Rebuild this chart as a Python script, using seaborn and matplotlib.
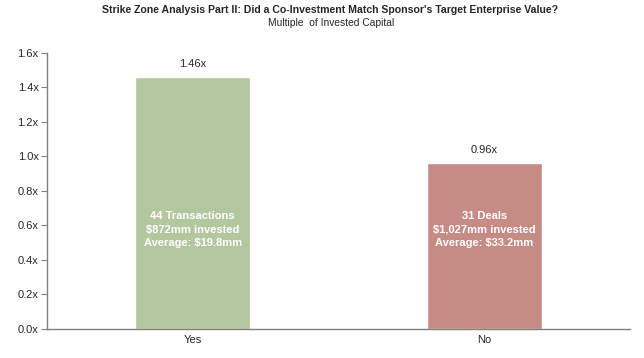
import matplotlib
matplotlib.use("Agg")
import matplotlib.pyplot as plt
import seaborn as sns
import pandas as pd

categories = ["Yes", "No"]
values = [1.46, 0.96]
value_labels = ["1.46x", "0.96x"]
inner_labels = ["44 Transactions\n$872mm invested\nAverage: $19.8mm",
                "31 Deals\n$1,027mm invested\nAverage: $33.2mm"]
colors = ["#B3C79E", "#C78B86"]
yticks = [0.0, 0.2, 0.4, 0.6, 0.8, 1.0, 1.2, 1.4, 1.6]

sns.set_style("white")
plt.rcParams['font.family'] = ['Liberation Sans', 'DejaVu Sans']

df = pd.DataFrame({"cat": categories, "val": values})
fig = plt.figure(figsize=(6.44, 3.58), dpi=100)
ax = fig.add_axes([0.073, 0.081, 0.905, 0.771])
sns.barplot(data=df, x="cat", y="val", hue="cat", palette=colors, width=0.395,
            legend=False, ax=ax, saturation=1)
ax.set_xlim(-0.5, 1.5)
ax.set_ylim(0, 1.6)
ax.set_yticks(yticks)
ax.set_yticklabels([f"{t:.1f}x" for t in yticks], fontsize=8)
ax.tick_params(axis='y', length=4, color='#808080', direction='out', left=True, pad=2)
ax.tick_params(axis='x', length=0, labelsize=8, pad=4)
ax.set_xlabel("")
ax.set_ylabel("")
for s in ["top", "right"]:
    ax.spines[s].set_visible(False)
for s in ["left", "bottom"]:
    ax.spines[s].set_color('#808080')
    ax.spines[s].set_linewidth(1)

for i, (v, lab, inner) in enumerate(zip(values, value_labels, inner_labels)):
    ax.annotate(lab, (i, v), xytext=(0, 6), textcoords="offset points",
                ha="center", va="bottom", fontsize=8)
    ax.text(i, 0.575, inner, ha="center", va="center", fontsize=8,
            color="white", fontweight="bold", linespacing=1.45)

fig.text(0.513, 0.972, "Strike Zone Analysis Part II: Did a Co-Investment Match Sponsor's Target Enterprise Value?",
         ha="center", va="center", fontsize=7.6, fontweight="bold")
fig.text(0.514, 0.937, "Multiple  of Invested Capital", ha="center", va="center", fontsize=7.4)

fig.savefig("out.png", dpi=100)
